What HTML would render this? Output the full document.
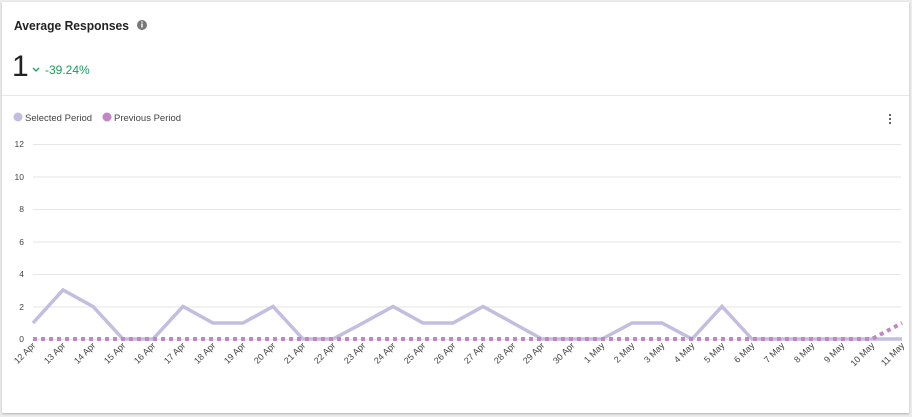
<!DOCTYPE html>
<html><head><style>
body{margin:0;width:912px;height:417px;background:#ececec;font-family:"Liberation Sans",sans-serif;overflow:hidden}
.card{position:absolute;left:2px;top:2px;width:907px;height:411px;background:#fff;box-shadow:0 1px 2px rgba(0,0,0,.25)}
</style></head><body>
<div class="card"></div>
<svg width="912" height="417" style="position:absolute;left:0;top:0" font-family="Liberation Sans, sans-serif">
<text x="14" y="30" font-size="13" font-weight="bold" fill="#222" textLength="115" lengthAdjust="spacingAndGlyphs">Average Responses</text>
<circle cx="142" cy="25" r="5" fill="#777"/><rect x="141.3" y="23.5" width="1.4" height="4" fill="#fff"/><circle cx="142" cy="22" r=".8" fill="#fff"/>
<text x="12" y="76" font-size="30" fill="#222">1</text>
<path d="M33 68 l3 3 l3 -3" stroke="#1a9e5a" stroke-width="1.3" fill="none"/>
<text x="45" y="74" font-size="12" fill="#1a9e5a">-39.24%</text>
<line x1="2" y1="95.5" x2="909" y2="95.5" stroke="#e8e8e8"/>
<circle cx="18" cy="117" r="4.5" fill="#c4bde0"/>
<text x="25" y="121" font-size="9.5" fill="#444">Selected Period</text>
<circle cx="107" cy="117" r="4.5" fill="#c386c4"/>
<text x="114" y="121" font-size="9.5" fill="#444">Previous Period</text>
<g fill="#555"><circle cx="890" cy="115" r="1.1"/><circle cx="890" cy="119" r="1.1"/><circle cx="890" cy="123" r="1.1"/></g>
<g stroke="#e6e6e6" stroke-width="1">
<line x1="33" y1="144.5" x2="901" y2="144.5"/><line x1="33" y1="177" x2="901" y2="177"/><line x1="33" y1="209.5" x2="901" y2="209.5"/><line x1="33" y1="242" x2="901" y2="242"/><line x1="33" y1="274.5" x2="901" y2="274.5"/><line x1="33" y1="307" x2="901" y2="307"/><line x1="33" y1="339.5" x2="901" y2="339.5"/>
</g>
<g font-size="8.5" fill="#444" text-anchor="end">
<text x="24" y="147">12</text><text x="24" y="180">10</text><text x="24" y="212">8</text><text x="24" y="245">6</text><text x="24" y="277">4</text><text x="24" y="310">2</text><text x="24" y="342">0</text>
</g>
<polyline fill="none" stroke="#c4bde0" stroke-width="3.5" stroke-linejoin="miter" points="33,323 63,290 93,306.5 123,339 153,339 183,306.5 213,323 243,323 273,306.5 303,339 333,339 363,323 393,306.5 423,323 453,323 483,306.5 513,323 542,339 572,339 602,339 632,323 662,323 692,339 722,306.5 752,339 782,339 812,339 842,339 872,339 902,339"/>
<polyline fill="none" stroke="#c386c4" stroke-width="4" stroke-dasharray="4,4" points="33,339 872,339 902,323"/>
<g font-size="9" fill="#444" text-anchor="end">
<text transform="translate(36,346) rotate(-45)">12 Apr</text><text transform="translate(66,346) rotate(-45)">13 Apr</text><text transform="translate(96,346) rotate(-45)">14 Apr</text><text transform="translate(126,346) rotate(-45)">15 Apr</text><text transform="translate(156,346) rotate(-45)">16 Apr</text><text transform="translate(186,346) rotate(-45)">17 Apr</text><text transform="translate(216,346) rotate(-45)">18 Apr</text><text transform="translate(246,346) rotate(-45)">19 Apr</text><text transform="translate(276,346) rotate(-45)">20 Apr</text><text transform="translate(306,346) rotate(-45)">21 Apr</text><text transform="translate(336,346) rotate(-45)">22 Apr</text><text transform="translate(366,346) rotate(-45)">23 Apr</text><text transform="translate(396,346) rotate(-45)">24 Apr</text><text transform="translate(426,346) rotate(-45)">25 Apr</text><text transform="translate(456,346) rotate(-45)">26 Apr</text><text transform="translate(486,346) rotate(-45)">27 Apr</text><text transform="translate(516,346) rotate(-45)">28 Apr</text><text transform="translate(545,346) rotate(-45)">29 Apr</text><text transform="translate(575,346) rotate(-45)">30 Apr</text><text transform="translate(605,346) rotate(-45)">1 May</text><text transform="translate(635,346) rotate(-45)">2 May</text><text transform="translate(665,346) rotate(-45)">3 May</text><text transform="translate(695,346) rotate(-45)">4 May</text><text transform="translate(725,346) rotate(-45)">5 May</text><text transform="translate(755,346) rotate(-45)">6 May</text><text transform="translate(785,346) rotate(-45)">7 May</text><text transform="translate(815,346) rotate(-45)">8 May</text><text transform="translate(845,346) rotate(-45)">9 May</text><text transform="translate(875,346) rotate(-45)">10 May</text><text transform="translate(905,346) rotate(-45)">11 May</text>
</g>
</svg>
</body></html>
